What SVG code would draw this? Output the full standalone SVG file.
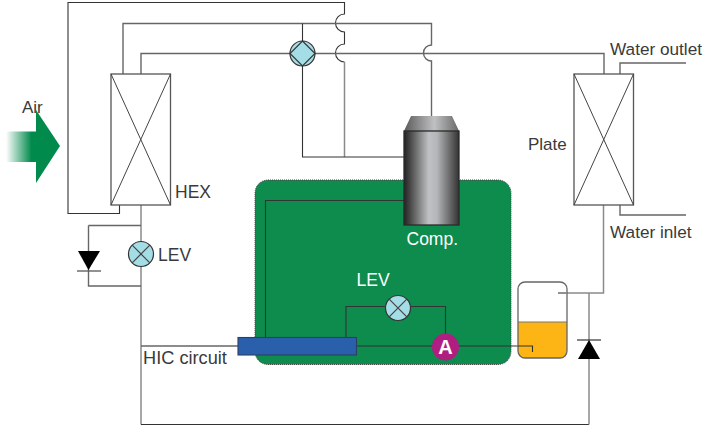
<svg xmlns="http://www.w3.org/2000/svg" width="703" height="427" viewBox="0 0 703 427">
<style>
.p{fill:none;stroke:#666;stroke-width:1.4}
.d{fill:none;stroke:#333;stroke-width:1.1}
.g{fill:none;stroke:#8a8a8a;stroke-width:1.5}
.hx{fill:#fff;stroke:#555;stroke-width:1.3}
.x{stroke:#444;stroke-width:1}
.v{fill:#a5dde6;stroke:#333;stroke-width:1.2}
.t{font-family:"Liberation Sans",Arial,sans-serif;font-size:17px;fill:#3a3a3a}
</style>
<defs>
<linearGradient id="fade" x1="6" x2="36" y1="0" y2="0" gradientUnits="userSpaceOnUse"><stop offset="0" stop-color="#008a4c" stop-opacity="0"/><stop offset="0.85" stop-color="#008a4c"/></linearGradient>
<linearGradient id="body" x1="0" x2="1" y1="0" y2="0"><stop offset="0" stop-color="#222"/><stop offset="0.15" stop-color="#555"/><stop offset="0.45" stop-color="#c0c1c4"/><stop offset="0.6" stop-color="#b5b6b9"/><stop offset="0.8" stop-color="#747476"/><stop offset="1" stop-color="#333"/></linearGradient>
<linearGradient id="cap" x1="0" x2="1" y1="0" y2="0"><stop offset="0" stop-color="#5a5a5a"/><stop offset="0.55" stop-color="#c0c1c3"/><stop offset="1" stop-color="#686868"/></linearGradient>
</defs>

<g id="air">
<text class="t" x="22" y="113">Air</text>
<rect x="6" y="131.500" width="31" height="30.500" fill="url(#fade)"/>
<polygon points="36,110 60,146 36,183" fill="#008a4c"/>
</g>

<g id="hic-zone">
<rect x="255" y="180" width="256" height="184.500" rx="13" fill="#0d8c4e" stroke="#444" stroke-width="1" stroke-dasharray="1 1"/>
</g>

<g id="connectors">
<path class="d" d="M119.500 205V213.500H68V2.500H344.500V14A9 9 0 0 0 344.500 32V44A9 9 0 0 0 344.500 62"/>
<path class="g" d="M344.500 62V157"/>
<path class="p" d="M123 74V23.500H431.500V45A8 8 0 0 0 431.500 61V116"/>
<path class="p" d="M141 74V53.500H604V74"/>
<path class="d" d="M302.500 23.500V157H404"/>
<path class="g" d="M141 205V424.500"/>
<path class="d" d="M141 424.500H589"/>
<path class="g" d="M589 424.500V293"/>
<path class="g" d="M558 293H603.500V205"/>
<path class="p" d="M88.500 225.500H141M88.500 225.500V286H141"/>
<path class="p" d="M141 346H238"/>
<path class="d" d="M265.500 337V200.500H404"/>
<path class="d" d="M346 337V306.500H445.500V346"/>
<path class="d" d="M356 346H532.500V352"/>
<path class="p" d="M620 74V63H686M620 205V215H686"/>
</g>

<g id="hex">
<rect class="hx" x="111" y="74" width="59.500" height="131"/>
<path class="x" d="M111 74L170.500 205M170.500 74L111 205"/>
<text class="t" x="175" y="197.500" style="font-size:17.500px">HEX</text>
</g>

<g id="plate">
<rect class="hx" x="574" y="74" width="59.500" height="131"/>
<path class="x" d="M574 74L633.500 205M633.500 74L574 205"/>
<text class="t" x="528" y="150">Plate</text>
</g>

<g id="four-way-valve">
<circle class="v" cx="302.500" cy="53.500" r="12.500"/>
<polygon points="302.500,41 315,53.500 302.500,66 290,53.500" fill="none" stroke="#333" stroke-width="1.100"/>
</g>

<g id="compressor">
<polygon points="404,131 411,116 452,116 459,131" fill="url(#cap)"/>
<rect x="404" y="131" width="55" height="94" fill="url(#body)" stroke="#2a2a2a" stroke-width="1.300"/>
<text class="t" x="406.500" y="245" style="fill:#fff;font-size:17.500px">Comp.</text>
</g>

<g id="lev-left">
<circle class="v" cx="141" cy="254" r="12.500"/>
<path class="x" d="M132.200 245.200L149.800 262.800M149.800 245.200L132.200 262.800" style="stroke-width:1.200"/>
<text class="t" x="158" y="261" style="font-size:17.500px">LEV</text>
</g>

<g id="check-left">
<polygon points="78,251 100,251 88.500,270" fill="#000"/>
<path d="M77 271H101" stroke="#555" stroke-width="1.300"/>
</g>

<g id="lev-hic">
<circle class="v" cx="398" cy="308" r="12.500"/>
<path class="x" d="M389.200 299.200L406.800 316.800M406.800 299.200L389.200 316.800" style="stroke-width:1.200"/>
<text class="t" x="356.500" y="286" style="fill:#fff;font-size:17.500px">LEV</text>
</g>

<g id="hic">
<rect x="238" y="337.500" width="118.500" height="17.500" fill="#2a5fab" stroke="#2b3f66" stroke-width="1.100"/>
<text class="t" x="143" y="364" style="font-size:18.200px">HIC circuit</text>
</g>

<g id="point-a">
<circle cx="445.500" cy="347" r="13.500" fill="#b01e82"/>
<text x="445.500" y="354" text-anchor="middle" font-family="Liberation Sans,Arial,sans-serif" font-weight="bold" font-size="20" fill="#fff">A</text>
</g>

<g id="tank">
<path d="M518 322H567V351a7 7 0 0 1-7 7H525a7 7 0 0 1-7-7Z" fill="#fdb515"/>
<path d="M518 322H567" stroke="#777" stroke-width="1"/>
<rect x="518" y="282" width="49" height="76" rx="7" fill="none" stroke="#666" stroke-width="1.300"/>
<path class="g" d="M558 293H567"/>
<path class="d" d="M518 346H532.500V352"/>
</g>

<g id="check-right">
<polygon points="578,359 600,359 589,340" fill="#000"/>
<path d="M577 340H601" stroke="#333" stroke-width="1.200"/>
</g>

<g id="water">
<text class="t" x="610" y="55" style="font-size:17.200px">Water outlet</text>
<text class="t" x="610" y="238" style="font-size:17.200px">Water inlet</text>
</g>
</svg>
